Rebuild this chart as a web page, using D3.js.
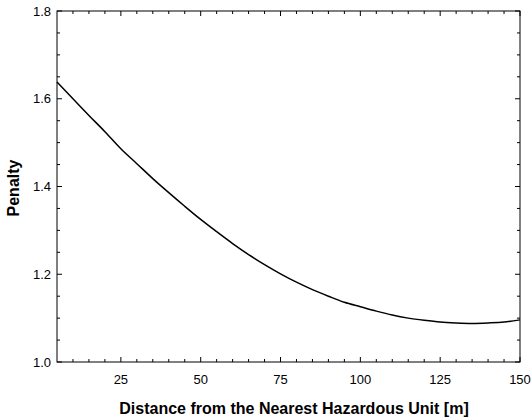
<!DOCTYPE html>
<html>
<head>
<meta charset="utf-8">
<script src="https://cdn.jsdelivr.net/npm/d3@7"></script>
<style>
  body { margin: 0; background: #fff; }
  svg { display: block; }
  text { font-family: "Liberation Sans", Arial, sans-serif; fill: #000; }
</style>
</head>
<body>
<svg id="chart" width="532" height="420"></svg>
<script>
// distance (m) and penalty
const distance = [5, 10, 15, 20, 25, 30, 35, 40, 45, 50, 55, 60, 65, 70, 75,
                  80, 85, 90, 95, 100, 105, 110, 115, 120, 125, 130, 135, 140, 145, 150];
const penalty  = [1.638, 1.600, 1.562, 1.525, 1.486, 1.452, 1.418, 1.386, 1.355, 1.325,
                  1.297, 1.270, 1.245, 1.222, 1.201, 1.182, 1.165, 1.150, 1.136, 1.126,
                  1.116, 1.107, 1.100, 1.095, 1.091, 1.089, 1.088, 1.089, 1.091, 1.096];

const xTicks = [25, 50, 75, 100, 125, 150];
const yTicks = [1.0, 1.2, 1.4, 1.6, 1.8];
const xMinor = d3.range(10, 150, 5).filter(d => d % 25 !== 0);
const yMinor = [1.05, 1.1, 1.15, 1.25, 1.3, 1.35, 1.45, 1.5, 1.55, 1.65, 1.7, 1.75];

const svg = d3.select("#chart");
const pL = 57, pR = 520, pT = 11, pB = 362;

const x = d3.scaleLinear().domain([5, 150]).range([pL, pR]);
const y = d3.scaleLinear().domain([1.0, 1.8]).range([pB, pT]);

// frame
svg.append("rect")
    .attr("x", pL).attr("y", pT)
    .attr("width", pR - pL).attr("height", pB - pT)
    .attr("fill", "none").attr("stroke", "#000").attr("stroke-width", 1);

const g = svg.append("g").attr("stroke", "#000").attr("stroke-width", 1);

// x ticks on bottom and top, pointing inward
function xTick(d, len) {
    g.append("line").attr("x1", x(d)).attr("x2", x(d)).attr("y1", pB).attr("y2", pB - len);
    g.append("line").attr("x1", x(d)).attr("x2", x(d)).attr("y1", pT).attr("y2", pT + len);
}
xTicks.forEach(d => xTick(d, 5));
xMinor.forEach(d => xTick(d, 3));

// y ticks on left and right
function yTick(d, len) {
    g.append("line").attr("y1", y(d)).attr("y2", y(d)).attr("x1", pL).attr("x2", pL + len);
    g.append("line").attr("y1", y(d)).attr("y2", y(d)).attr("x1", pR).attr("x2", pR - len);
}
yTicks.forEach(d => yTick(d, 5));
yMinor.forEach(d => yTick(d, 3));

// tick labels
svg.selectAll(".xl").data(xTicks).enter().append("text")
    .attr("x", d => x(d)).attr("y", 384)
    .attr("text-anchor", "middle")
    .style("font-size", "13px")
    .text(d => d);

svg.selectAll(".yl").data(yTicks).enter().append("text")
    .attr("x", 51).attr("y", d => y(d) + 4.5)
    .attr("text-anchor", "end")
    .style("font-size", "13px")
    .text(d => d.toFixed(1));

// axis titles
svg.append("text")
    .attr("x", 294).attr("y", 414)
    .attr("text-anchor", "middle")
    .style("font-size", "16px").style("font-weight", "bold")
    .text("Distance from the Nearest Hazardous Unit [m]");

svg.append("text")
    .attr("transform", "translate(19,188) rotate(-90)")
    .attr("text-anchor", "middle")
    .style("font-size", "16px").style("font-weight", "bold")
    .text("Penalty");

// curve
const line = d3.line()
    .x((d, i) => x(distance[i]))
    .y(d => y(d))
    .curve(d3.curveMonotoneX);

svg.append("path")
    .datum(penalty)
    .attr("d", line)
    .attr("fill", "none")
    .attr("stroke", "#000")
    .attr("stroke-width", 1.5);
</script>
</body>
</html>
